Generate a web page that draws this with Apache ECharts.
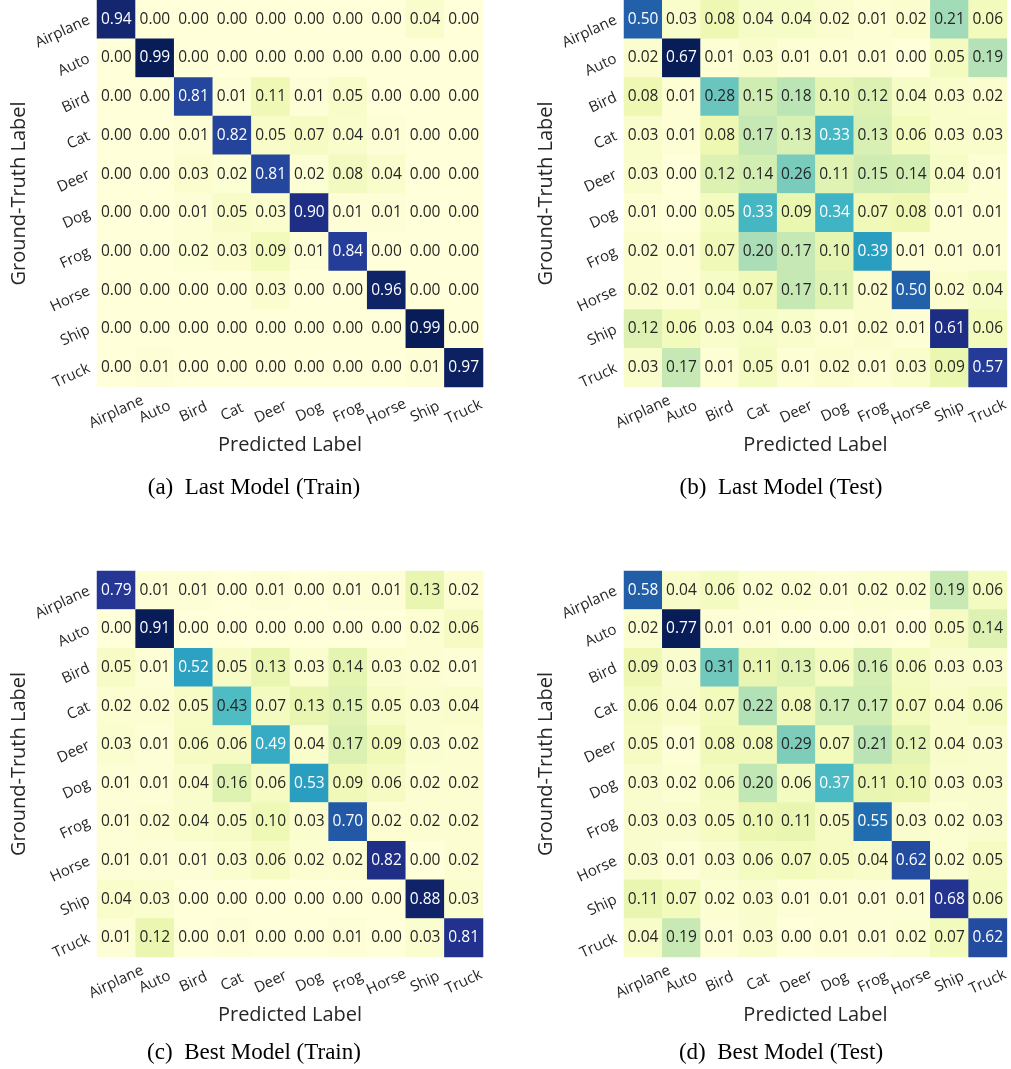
<!DOCTYPE html>
<html><head><meta charset="utf-8">
<script src="https://cdn.jsdelivr.net/npm/echarts@6/dist/echarts.min.js"></script>
<style>html,body{margin:0;padding:0;background:#fff}#c{width:1011px;height:1069px}</style>
</head><body><div id="c"></div>
<script>
const classes = ["Airplane","Auto","Bird","Cat","Deer","Dog","Frog","Horse","Ship","Truck"];
const captions = ["(a)  Last Model (Train)","(b)  Last Model (Test)","(c)  Best Model (Train)","(d)  Best Model (Test)"];
const lastTrain = [
 [0.94,0.00,0.00,0.00,0.00,0.00,0.00,0.00,0.04,0.00],
 [0.00,0.99,0.00,0.00,0.00,0.00,0.00,0.00,0.00,0.00],
 [0.00,0.00,0.81,0.01,0.11,0.01,0.05,0.00,0.00,0.00],
 [0.00,0.00,0.01,0.82,0.05,0.07,0.04,0.01,0.00,0.00],
 [0.00,0.00,0.03,0.02,0.81,0.02,0.08,0.04,0.00,0.00],
 [0.00,0.00,0.01,0.05,0.03,0.90,0.01,0.01,0.00,0.00],
 [0.00,0.00,0.02,0.03,0.09,0.01,0.84,0.00,0.00,0.00],
 [0.00,0.00,0.00,0.00,0.03,0.00,0.00,0.96,0.00,0.00],
 [0.00,0.00,0.00,0.00,0.00,0.00,0.00,0.00,0.99,0.00],
 [0.00,0.01,0.00,0.00,0.00,0.00,0.00,0.00,0.01,0.97]];
const lastTest = [
 [0.50,0.03,0.08,0.04,0.04,0.02,0.01,0.02,0.21,0.06],
 [0.02,0.67,0.01,0.03,0.01,0.01,0.01,0.00,0.05,0.19],
 [0.08,0.01,0.28,0.15,0.18,0.10,0.12,0.04,0.03,0.02],
 [0.03,0.01,0.08,0.17,0.13,0.33,0.13,0.06,0.03,0.03],
 [0.03,0.00,0.12,0.14,0.26,0.11,0.15,0.14,0.04,0.01],
 [0.01,0.00,0.05,0.33,0.09,0.34,0.07,0.08,0.01,0.01],
 [0.02,0.01,0.07,0.20,0.17,0.10,0.39,0.01,0.01,0.01],
 [0.02,0.01,0.04,0.07,0.17,0.11,0.02,0.50,0.02,0.04],
 [0.12,0.06,0.03,0.04,0.03,0.01,0.02,0.01,0.61,0.06],
 [0.03,0.17,0.01,0.05,0.01,0.02,0.01,0.03,0.09,0.57]];
const bestTrain = [
 [0.79,0.01,0.01,0.00,0.01,0.00,0.01,0.01,0.13,0.02],
 [0.00,0.91,0.00,0.00,0.00,0.00,0.00,0.00,0.02,0.06],
 [0.05,0.01,0.52,0.05,0.13,0.03,0.14,0.03,0.02,0.01],
 [0.02,0.02,0.05,0.43,0.07,0.13,0.15,0.05,0.03,0.04],
 [0.03,0.01,0.06,0.06,0.49,0.04,0.17,0.09,0.03,0.02],
 [0.01,0.01,0.04,0.16,0.06,0.53,0.09,0.06,0.02,0.02],
 [0.01,0.02,0.04,0.05,0.10,0.03,0.70,0.02,0.02,0.02],
 [0.01,0.01,0.01,0.03,0.06,0.02,0.02,0.82,0.00,0.02],
 [0.04,0.03,0.00,0.00,0.00,0.00,0.00,0.00,0.88,0.03],
 [0.01,0.12,0.00,0.01,0.00,0.00,0.01,0.00,0.03,0.81]];
const bestTest = [
 [0.58,0.04,0.06,0.02,0.02,0.01,0.02,0.02,0.19,0.06],
 [0.02,0.77,0.01,0.01,0.00,0.00,0.01,0.00,0.05,0.14],
 [0.09,0.03,0.31,0.11,0.13,0.06,0.16,0.06,0.03,0.03],
 [0.06,0.04,0.07,0.22,0.08,0.17,0.17,0.07,0.04,0.06],
 [0.05,0.01,0.08,0.08,0.29,0.07,0.21,0.12,0.04,0.03],
 [0.03,0.02,0.06,0.20,0.06,0.37,0.11,0.10,0.03,0.03],
 [0.03,0.03,0.05,0.10,0.11,0.05,0.55,0.03,0.02,0.03],
 [0.03,0.01,0.03,0.06,0.07,0.05,0.04,0.62,0.02,0.05],
 [0.11,0.07,0.02,0.03,0.01,0.01,0.01,0.01,0.68,0.06],
 [0.04,0.19,0.01,0.03,0.00,0.01,0.01,0.02,0.07,0.62]];
const matrices = [lastTrain, lastTest, bestTrain, bestTest];

const YlGnBu = ['#ffffd9','#edf8b1','#c7e9b4','#7fcdbb','#41b6c4','#1d91c0','#225ea8','#253494','#081d58'];
function hex2rgb(h){return [1,3,5].map(i=>parseInt(h.substr(i,2),16)/255);}
function cmap(t){
  t=Math.max(0,Math.min(1,t));
  const p=t*(YlGnBu.length-1), i=Math.min(Math.floor(p),YlGnBu.length-2), f=p-i;
  const a=hex2rgb(YlGnBu[i]), b=hex2rgb(YlGnBu[i+1]);
  return a.map((v,k)=>v+(b[k]-v)*f);
}
function lum(rgb){
  const l=rgb.map(c=>c<=0.03928?c/12.92:Math.pow((c+0.055)/1.055,2.4));
  return 0.2126*l[0]+0.7152*l[1]+0.0722*l[2];
}

const grids=[
  {left:97,top:0,width:386,height:387},
  {left:624,top:0,width:386,height:387},
  {left:97,top:571,width:386,height:386},
  {left:624,top:571,width:386,height:386}];
const capPos=[[254,488],[781,488],[254,1053],[781,1053]];
const fontSans='"Open Sans", "Noto Sans", sans-serif';

const xAxis=[],yAxis=[],series=[],visualMap=[],graphic=[];
matrices.forEach((m,gi)=>{
  const vmax=Math.max(...m.flat());
  xAxis.push({type:'category',gridIndex:gi,data:classes,
    axisLine:{show:false},axisTick:{show:false},splitLine:{show:false},
    axisLabel:{rotate:25,align:'center',verticalAlign:'middle',margin:25,fontFamily:fontSans,fontSize:15,color:'#262626',interval:0},
    name:'Predicted Label',nameLocation:'middle',nameGap:48,
    nameTextStyle:{fontFamily:fontSans,fontSize:20,color:'#262626'}});
  yAxis.push({type:'category',gridIndex:gi,data:classes,inverse:true,
    axisLine:{show:false},axisTick:{show:false},splitLine:{show:false},
    axisLabel:{rotate:25,margin:8,fontFamily:fontSans,fontSize:15,color:'#262626',interval:0},
    name:'Ground-Truth Label',nameLocation:'middle',nameGap:68,
    nameTextStyle:{fontFamily:fontSans,fontSize:20,color:'#262626'}});
  const data=[];
  m.forEach((row,r)=>row.forEach((v,c)=>{
    const L=lum(cmap(v/vmax));
    data.push({value:[c,r,v],label:{color:L>0.408?'#262626':'#ffffff'}});
  }));
  series.push({type:'heatmap',xAxisIndex:gi,yAxisIndex:gi,data,
    label:{show:true,fontFamily:fontSans,fontSize:15.5,formatter:p=>p.value[2].toFixed(2)},
    itemStyle:{borderWidth:0},emphasis:{disabled:true}});
  visualMap.push({type:'continuous',show:false,seriesIndex:gi,dimension:2,min:0,max:vmax,inRange:{color:YlGnBu}});
  graphic.push({type:'text',x:capPos[gi][0],y:capPos[gi][1],
    style:{text:captions[gi],font:'23px "Liberation Serif", serif',fill:'#000',align:'center',verticalAlign:'middle'}});
});

const chart=echarts.init(document.getElementById('c'),null,{renderer:'canvas'});
chart.setOption({animation:false,grid:grids,xAxis,yAxis,series,visualMap,graphic});
</script></body></html>
